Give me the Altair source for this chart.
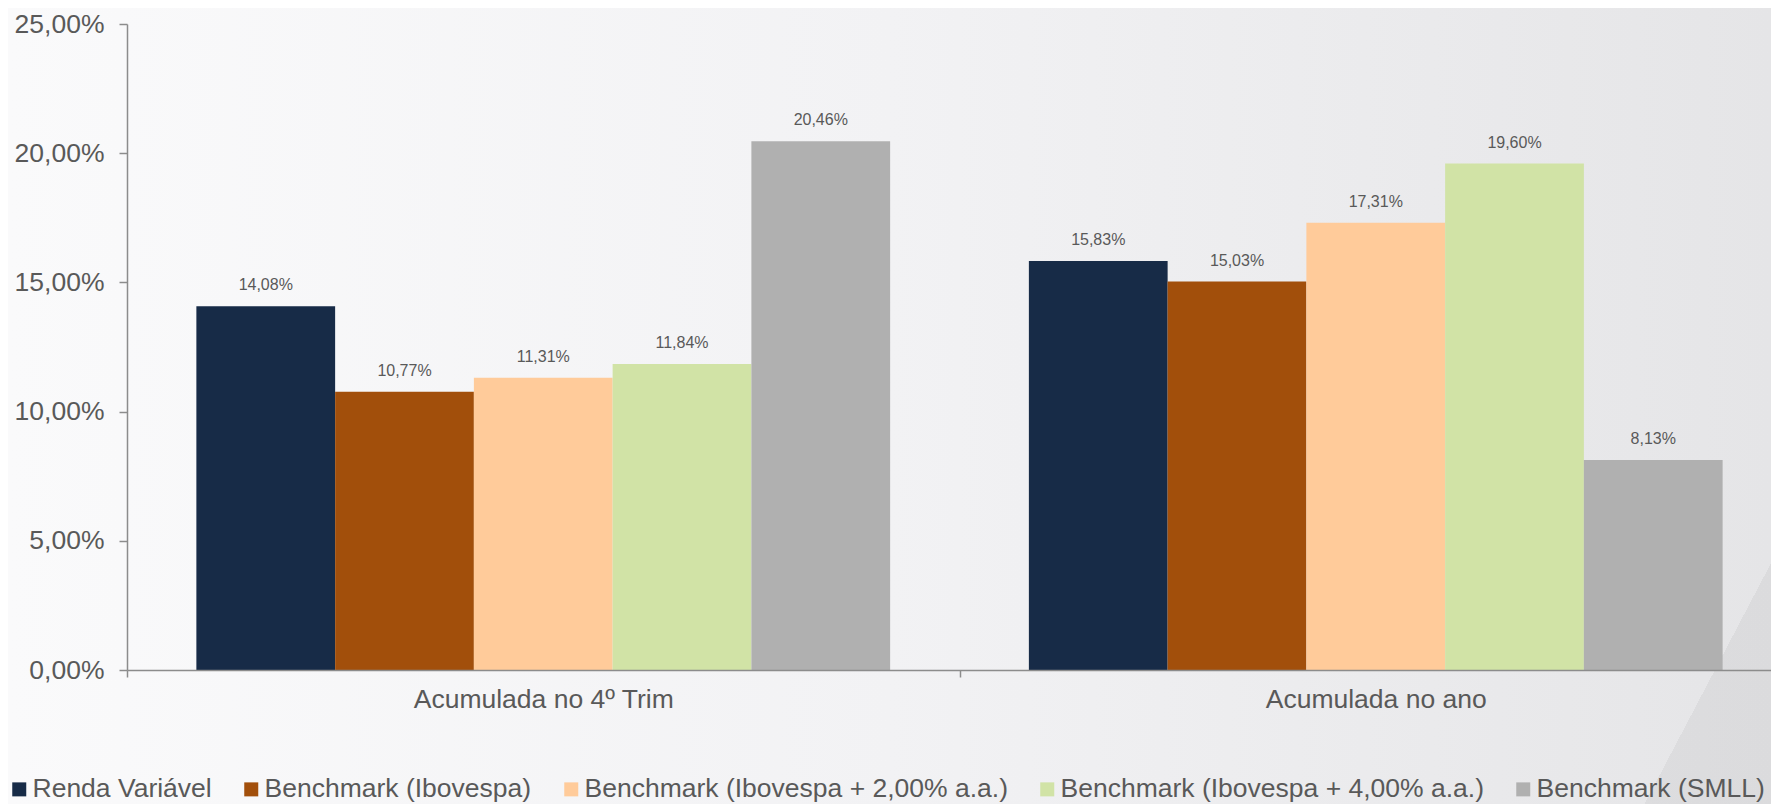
import altair as alt
import pandas as pd

groups = ["Acumulada no 4º Trim", "Acumulada no ano"]
series = [
    "Renda Variável",
    "Benchmark (Ibovespa)",
    "Benchmark (Ibovespa + 2,00% a.a.)",
    "Benchmark (Ibovespa + 4,00% a.a.)",
    "Benchmark (SMLL)",
]
trim_values = [14.08, 10.77, 11.31, 11.84, 20.46]
ano_values = [15.83, 15.03, 17.31, 19.60, 8.13]
colors = ["#172B47", "#A24F0B", "#FFCB9A", "#D1E3A6", "#B0B0B0"]
y_ticks = [0.0, 0.05, 0.10, 0.15, 0.20, 0.25]

rows = []
for g, vals in zip(groups, [trim_values, ano_values]):
    for s, v in zip(series, vals):
        rows.append({"grupo": g, "serie": s, "valor": v / 100.0})
df = pd.DataFrame(rows)

FONT = "Liberation Sans, Arial, sans-serif"
TXT = "#595959"
AXC = "#8C8C8C"
W, H = 1644, 646
PL, PT, PR, PB = 119, 16, 0, 134
XRANGE = 1665

fmt = "replace(format(datum.value, '.2%'), '.', ',')"

# background decorations
bg = alt.Chart(alt.Data(values=[{}])).mark_rect(
    fill=alt.LinearGradient(
        gradient="linear",
        stops=[
            alt.GradientStop(color="#FAFAFB", offset=0),
            alt.GradientStop(color="#F2F2F4", offset=0.5),
            alt.GradientStop(color="#E5E5E7", offset=1),
        ],
        x1=0, y1=0, x2=1, y2=0,
    )
).encode(
    x=alt.value(-PL), x2=alt.value(W + PR),
    y=alt.value(-PT), y2=alt.value(H + PB),
)

diag = alt.Chart(alt.Data(values=[{}])).mark_rect(
    fill=alt.LinearGradient(
        gradient="linear",
        stops=[
            alt.GradientStop(color="rgba(0,0,0,0)", offset=0),
            alt.GradientStop(color="rgba(0,0,0,0)", offset=0.5),
            alt.GradientStop(color="rgba(0,0,0,0.045)", offset=0.5),
            alt.GradientStop(color="rgba(0,0,0,0.045)", offset=1),
        ],
        x1=0.868, y1=0.822, x2=1.062, y2=0.868,
    )
).encode(
    x=alt.value(-PL), x2=alt.value(W + PR),
    y=alt.value(-PT), y2=alt.value(H + PB),
)

base = alt.Chart(df).encode(
    x=alt.X(
        "grupo:N",
        sort=groups,
        scale=alt.Scale(paddingInner=0, paddingOuter=0, range=[0, XRANGE]),
        axis=alt.Axis(
            title=None,
            labelAngle=0,
            tickBand="extent",
            tickSize=7,
            tickColor=AXC,
            tickWidth=1.5,
            domainColor=AXC,
            domainWidth=1.5,
            labelFont=FONT,
            labelFontSize=26.5,
            labelColor=TXT,
            labelPadding=9,
            labelLimit=1000,
            zindex=2,
        ),
    ),
    xOffset=alt.XOffset("serie:N", sort=series, scale=alt.Scale(paddingInner=0, paddingOuter=0.5)),
    y=alt.Y(
        "valor:Q",
        scale=alt.Scale(domain=[0, 0.25], nice=False),
        axis=alt.Axis(
            title=None,
            values=y_ticks,
            labelExpr=fmt,
            grid=False,
            tickSize=8,
            tickColor=AXC,
            tickWidth=1.5,
            domainColor=AXC,
            domainWidth=1.5,
            labelFont=FONT,
            labelFontSize=26.5,
            labelColor=TXT,
            labelPadding=15,
            zindex=2,
        ),
    ),
)

bars = base.mark_bar().encode(
    color=alt.Color(
        "serie:N",
        sort=series,
        scale=alt.Scale(domain=series, range=colors),
        legend=alt.Legend(
            title=None,
            orient="none",
            legendX=-121,
            legendY=752,
            direction="horizontal",
            columns=5,
            symbolType="square",
            symbolSize=196,
            symbolStrokeWidth=0,
            labelFont=FONT,
            labelFontSize=26.5,
            labelColor=TXT,
            labelOffset=0,
            labelLimit=1000,
            columnPadding=26,
            padding=0,
        ),
    )
)

labels = base.mark_text(
    dy=-21, fontSize=16, font=FONT, color=TXT, baseline="middle"
).transform_calculate(
    lbl="replace(format(datum.valor, '.2%'), '.', ',')"
).encode(text="lbl:N")

chart = alt.layer(bg, diag, bars, labels).properties(
    width=W,
    height=H,
    autosize=alt.AutoSizeParams(type="none"),
    padding={"left": PL, "top": PT, "right": PR, "bottom": PB},
    background="#F3F3F5",
).configure_view(stroke=None)

chart.save("out.html", embed_options={"renderer": "svg", "actions": False})
